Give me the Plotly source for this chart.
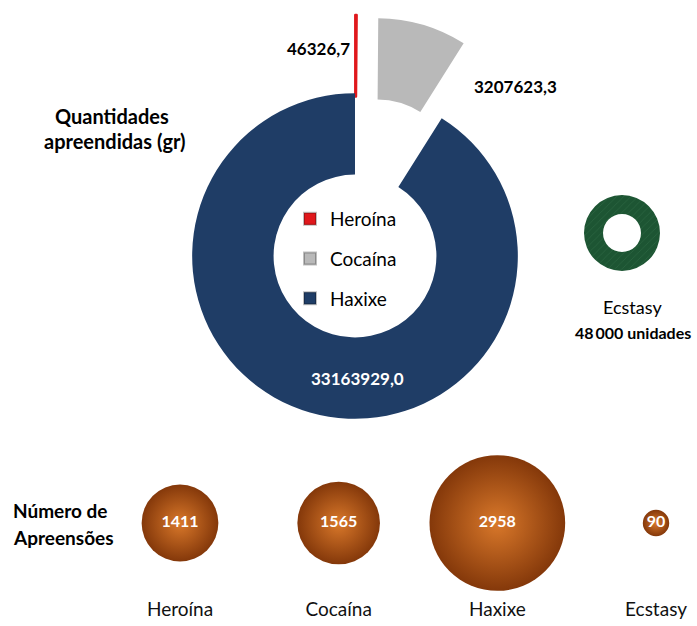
import plotly.graph_objects as go

W, H = 697, 626

# ---------------- data ----------------
drogas_gr = ["Heroína", "Cocaína", "Haxixe"]
quantidades_gr = [46326.7, 3207623.3, 33163929.0]

ecstasy_label = "Ecstasy"
ecstasy_unidades = 48000

categorias = ["Heroína", "Cocaína", "Haxixe", "Ecstasy"]
apreensoes = [1411, 1565, 2958, 90]

# ---------------- style ----------------
FONT = "Lato"
pie_colors = ["#e0181c", "#b9b9b9", "#1f3d66"]
bubble_edge = "#84380a"
bubble_center = "#d9782a"
BUBBLE_BASE = 23.0
BUBBLE_SCALE = 0.0381


def px(x):
    return x / W


def py(y):
    return 1 - y / H


def fmt_pt(v):
    return f"{v:.1f}".replace(".", ",")


def fmt_units(v):
    return f"{v:,}".replace(",", "\u2009")


fig = go.Figure()

# main donut
fig.add_trace(go.Pie(
    labels=drogas_gr,
    values=quantidades_gr,
    hole=0.5,
    sort=False,
    direction="clockwise",
    rotation=0,
    pull=[0.48, 0.48, 0],
    marker=dict(colors=pie_colors,
                line=dict(color=pie_colors, width=[2.5, 0, 0])),
    textinfo="none",
    showlegend=False,
    domain=dict(x=[px(114), px(596)], y=[py(497), py(15)]),
))

# ecstasy ring
fig.add_trace(go.Pie(
    labels=[ecstasy_label],
    values=[ecstasy_unidades],
    hole=0.5,
    sort=False,
    marker=dict(colors=["#1d5533"],
                pattern=dict(shape="/", bgcolor="#1d5533", fgcolor="#4a8a60",
                             fgopacity=0.3, size=5, solidity=0.15)),
    textinfo="none",
    showlegend=False,
    domain=dict(x=[px(584), px(660)], y=[py(271), py(195)]),
))

# legend entries (inside the donut)
for name, col in zip(drogas_gr, pie_colors):
    fig.add_trace(go.Scatter(
        x=[None], y=[None], mode="markers", name=name, legendgroup=name,
        marker=dict(symbol="square", size=13, color=col,
                    line=dict(color="rgba(0,0,0,0.25)", width=1)),
    ))

# bubbles
fig.add_trace(go.Scatter(
    x=categorias,
    y=[0] * len(categorias),
    mode="markers+text",
    text=[str(v) for v in apreensoes],
    textposition="middle center",
    textfont=dict(family=FONT, size=16, color="white", weight="bold"),
    marker=dict(
        size=[BUBBLE_BASE + v * BUBBLE_SCALE for v in apreensoes],
        sizemode="diameter",
        color=bubble_edge,
        gradient=dict(type="radial", color=bubble_center),
        line=dict(width=0),
        opacity=1,
    ),
    showlegend=False,
    hoverinfo="x+text",
))

# value labels
ann = []
ann.append(dict(x=px(318), y=py(48), text=f"<b>{fmt_pt(quantidades_gr[0])}</b>",
                font=dict(size=17, color="black")))
ann.append(dict(x=px(515), y=py(87), text=f"<b>{fmt_pt(quantidades_gr[1])}</b>",
                font=dict(size=17, color="black")))
ann.append(dict(x=px(357), y=py(378), text=f"<b>{fmt_pt(quantidades_gr[2])}</b>",
                font=dict(size=17, color="white")))
ann.append(dict(x=px(112), y=py(116), text="<b>Quantidades</b>",
                font=dict(size=20, color="black")))
ann.append(dict(x=px(115), y=py(141), text="<b>apreendidas (gr)</b>",
                font=dict(size=20, color="black")))
ann.append(dict(x=px(632), y=py(307), text=ecstasy_label,
                font=dict(size=18, color="black")))
ann.append(dict(x=px(633), y=py(332), text=f"<b>{fmt_units(ecstasy_unidades)} unidades</b>",
                font=dict(size=16, color="black")))
ann.append(dict(x=px(11), y=py(510), xanchor="left", text="<b>Número de</b>",
                font=dict(size=19, color="black")))
ann.append(dict(x=px(11), y=py(537), xanchor="left", text="<b>Apreensões</b>",
                font=dict(size=19, color="black")))
for a in ann:
    a.setdefault("xanchor", "center")
    a.update(xref="paper", yref="paper", yanchor="middle", showarrow=False)
    a["font"]["family"] = FONT

# axis range so categories sit under the bubbles
x0 = -180 / 158.67
fig.update_layout(
    width=W, height=H,
    margin=dict(l=0, r=0, t=0, b=0),
    paper_bgcolor="white",
    plot_bgcolor="rgba(0,0,0,0)",
    font=dict(family=FONT, color="black"),
    annotations=ann,
    xaxis=dict(type="category", range=[x0, x0 + W / 158.67], domain=[0, 1],
               showgrid=False, zeroline=False, showline=False, ticks="",
               tickfont=dict(family=FONT, size=19, color="#111"), fixedrange=True),
    yaxis=dict(range=[-1, 1], domain=[py(596), py(450)], visible=False,
               fixedrange=True),
    legend=dict(x=px(290), y=py(200), xanchor="left", yanchor="top",
                font=dict(family=FONT, size=19, color="black"),
                tracegroupgap=12, bgcolor="rgba(0,0,0,0)", itemsizing="constant"),
    showlegend=True,
)

fig.write_html("out.html", config={"displayModeBar": False},
               post_script="document.body.style.margin='0';document.body.style.overflow='hidden';")
